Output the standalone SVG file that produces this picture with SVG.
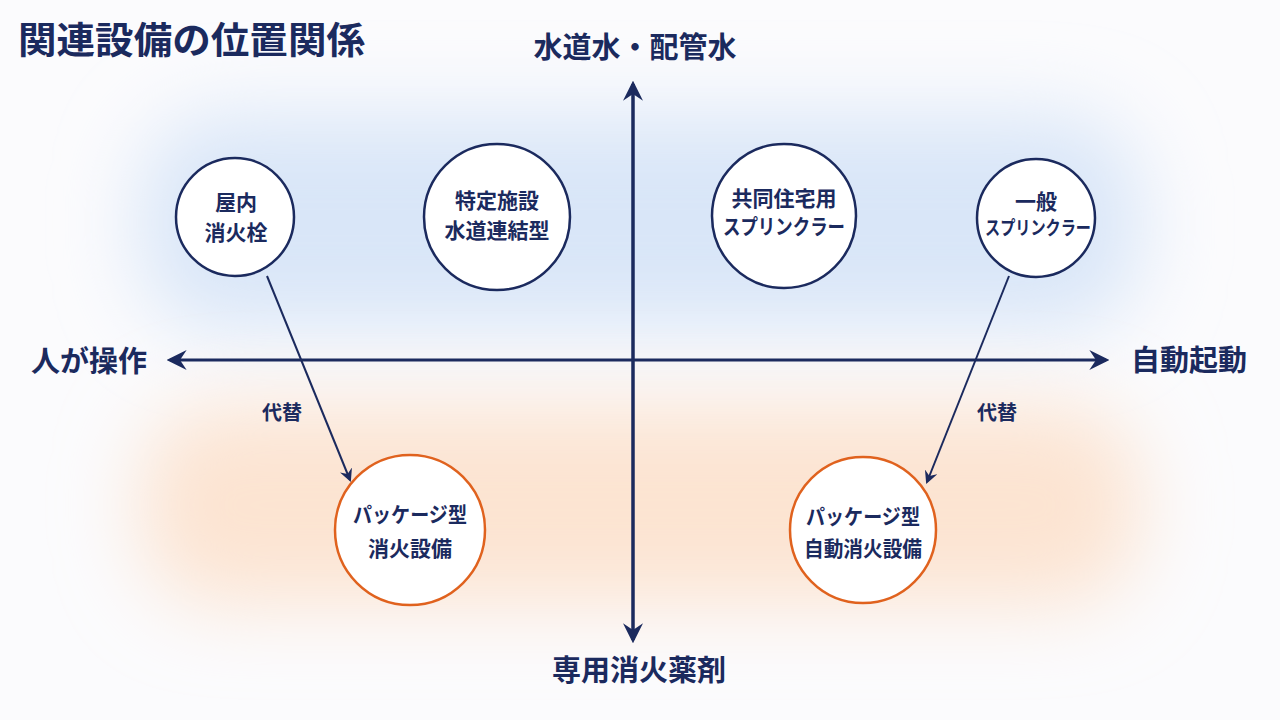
<svg xmlns="http://www.w3.org/2000/svg" width="1280" height="720" viewBox="0 0 1280 720">
<defs>
<filter id="blur" x="-30%" y="-50%" width="160%" height="200%"><feGaussianBlur stdDeviation="40"/></filter>
<marker id="ah" viewBox="0 0 12 12" refX="10" refY="6" markerWidth="13" markerHeight="13" markerUnits="userSpaceOnUse" orient="auto">
<path d="M0,0 L12,6 L0,12 L4,6 Z" fill="#1b2a5e"/>
</marker>
<marker id="ahs" viewBox="0 0 12 12" refX="10" refY="6" markerWidth="20" markerHeight="20" markerUnits="userSpaceOnUse" orient="auto">
<path d="M0,0 L12,6 L0,12 L4,6 Z" fill="#1b2a5e"/>
</marker>
<style>
text{font-family:"Noto Sans CJK JP","Noto Sans",sans-serif;font-weight:700;fill:#1b2a5e;text-anchor:middle}
.node{fill:#fff;stroke:#1b2a5e;stroke-width:2.5}
.alt{fill:#fff;stroke:#e0621e;stroke-width:2.5}
.nt{font-size:21px}
.ax{font-size:29px}
.axis{stroke:#1b2a5e;stroke-width:3;fill:none}
.link{stroke:#1b2a5e;stroke-width:2;fill:none}
</style>
</defs>
<rect width="1280" height="720" fill="#fbfbfd"/>
<rect x="140" y="115" width="1000" height="215" rx="80" fill="#d9e6f8" filter="url(#blur)"/>
<rect x="140" y="405" width="1000" height="200" rx="80" fill="#fce4d2" filter="url(#blur)"/>
<text x="18" y="54" style="font-size:37px;text-anchor:start" textLength="347" lengthAdjust="spacingAndGlyphs">関連設備の位置関係</text>
<g id="connectors">
<line class="axis" x1="633" y1="640" x2="633" y2="84" marker-end="url(#ahs)"/>
<line class="axis" x1="633" y1="84" x2="633" y2="640" marker-end="url(#ahs)"/>
<line class="axis" x1="633" y1="360" x2="170" y2="360" marker-end="url(#ahs)"/>
<line class="axis" x1="633" y1="360" x2="1106" y2="360" marker-end="url(#ahs)"/>
<line class="link" x1="267" y1="276" x2="350" y2="480" marker-end="url(#ah)"/>
<line class="link" x1="1009" y1="276" x2="927" y2="482" marker-end="url(#ah)"/>
<text x="282" y="420" style="font-size:20px">代替</text>
<text x="997" y="420" style="font-size:20px">代替</text>
</g>
<text class="ax" x="635" y="58">水道水・配管水</text>
<text class="ax" x="639" y="681">専用消火薬剤</text>
<text class="ax" x="89" y="372">人が操作</text>
<text class="ax" x="1189" y="371">自動起動</text>
<g id="n1"><circle class="node" cx="235" cy="217" r="59"/><text class="nt" x="236" y="210">屋内</text><text class="nt" x="236" y="240">消火栓</text></g>
<g id="n2"><circle class="node" cx="497" cy="217" r="73"/><text class="nt" x="497" y="208">特定施設</text><text class="nt" x="497" y="238">水道連結型</text></g>
<g id="n3"><circle class="node" cx="784" cy="216" r="72"/><text class="nt" x="784" y="206">共同住宅用</text><text class="nt" x="784" y="234" textLength="122" lengthAdjust="spacingAndGlyphs">スプリンクラー</text></g>
<g id="n4"><circle class="node" cx="1036" cy="218" r="59"/><text class="nt" x="1036" y="209">一般</text><text class="nt" x="1038" y="235" style="font-size:19px" textLength="106" lengthAdjust="spacingAndGlyphs">スプリンクラー</text></g>
<g id="n5"><circle class="alt" cx="410" cy="530" r="75"/><text class="nt" x="410" y="522" textLength="114" lengthAdjust="spacingAndGlyphs">パッケージ型</text><text class="nt" x="410" y="556">消火設備</text></g>
<g id="n6"><circle class="alt" cx="863" cy="530" r="73"/><text class="nt" x="863" y="524" textLength="114" lengthAdjust="spacingAndGlyphs">パッケージ型</text><text class="nt" x="863" y="556" textLength="118" lengthAdjust="spacingAndGlyphs">自動消火設備</text></g>
</svg>
